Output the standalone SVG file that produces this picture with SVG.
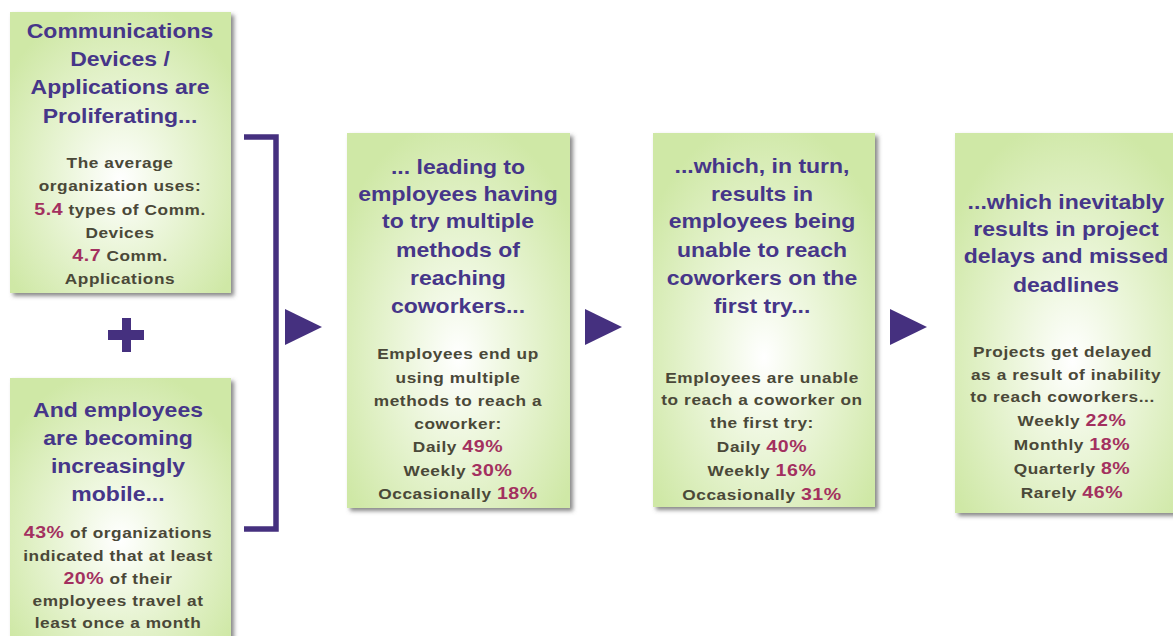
<svg xmlns="http://www.w3.org/2000/svg" width="1173" height="636" viewBox="0 0 1173 636">
<defs>
<radialGradient id="bg" cx="50%" cy="58%" r="62%" fx="50%" fy="60%">
<stop offset="0" stop-color="#ffffff"/>
<stop offset="0.35" stop-color="#eef7df"/>
<stop offset="1" stop-color="#cfe8a6"/>
</radialGradient>
<filter id="sh" x="-10%" y="-10%" width="130%" height="130%">
<feDropShadow dx="3" dy="3" stdDeviation="2" flood-color="#555" flood-opacity="0.7"/>
</filter>
<style>
.box{fill:url(#bg);filter:url(#sh)}
.t{font-family:"Liberation Sans",Arial,sans-serif;font-weight:bold;font-size:20px;fill:#463689;text-anchor:middle}
.b{font-family:"Liberation Sans",Arial,sans-serif;font-weight:bold;font-size:15px;fill:#4a4838;text-anchor:middle;letter-spacing:0.5px}
.n{fill:#a3305f;font-size:17px}
.pu{fill:#45307f}
</style>
</defs>
<rect width="1173" height="636" fill="#ffffff"/>

<g id="node-devices">
<rect class="box" x="10" y="12" width="221" height="281"/>
<g transform="translate(120 0) scale(1.15 1)">
<text class="t" x="0" y="38">Communications</text>
<text class="t" x="0" y="66">Devices /</text>
<text class="t" x="0" y="94">Applications are</text>
<text class="t" x="0" y="123">Proliferating...</text>
<text class="b" x="0" y="168">The average</text>
<text class="b" x="0" y="191">organization uses:</text>
<text class="b" x="0" y="215"><tspan class="n">5.4</tspan> types of Comm.</text>
<text class="b" x="0" y="238">Devices</text>
<text class="b" x="0" y="261"><tspan class="n">4.7</tspan> Comm.</text>
<text class="b" x="0" y="284">Applications</text>
</g>
</g>

<g id="node-plus">
<rect class="pu" x="108" y="330" width="36" height="10"/>
<rect class="pu" x="122" y="318" width="9" height="34"/>
</g>

<g id="node-mobile">
<rect class="box" x="10" y="378" width="221" height="270"/>
<g transform="translate(118 0) scale(1.15 1)">
<text class="t" x="0" y="417">And employees</text>
<text class="t" x="0" y="445">are becoming</text>
<text class="t" x="0" y="473">increasingly</text>
<text class="t" x="0" y="501">mobile...</text>
<text class="b" x="0" y="538"><tspan class="n">43%</tspan> of organizations</text>
<text class="b" x="0" y="561">indicated that at least</text>
<text class="b" x="0" y="584"><tspan class="n">20%</tspan> of their</text>
<text class="b" x="0" y="606">employees travel at</text>
<text class="b" x="0" y="628">least once a month</text>
</g>
</g>

<g id="node-methods">
<rect class="box" x="347" y="133" width="223" height="375"/>
<g transform="translate(458 0) scale(1.15 1)">
<text class="t" x="0" y="174">... leading to</text>
<text class="t" x="0" y="201">employees having</text>
<text class="t" x="0" y="228">to try multiple</text>
<text class="t" x="0" y="257">methods of</text>
<text class="t" x="0" y="285">reaching</text>
<text class="t" x="0" y="313">coworkers...</text>
<text class="b" x="0" y="359">Employees end up</text>
<text class="b" x="0" y="383">using multiple</text>
<text class="b" x="0" y="406">methods to reach a</text>
<text class="b" x="0" y="429">coworker:</text>
<text class="b" x="0" y="452">Daily <tspan class="n">49%</tspan></text>
<text class="b" x="0" y="476">Weekly <tspan class="n">30%</tspan></text>
<text class="b" x="0" y="499">Occasionally <tspan class="n">18%</tspan></text>
</g>
</g>

<g id="node-unable">
<rect class="box" x="653" y="133" width="222" height="374"/>
<g transform="translate(762 0) scale(1.15 1)">
<text class="t" x="0" y="173">...which, in turn,</text>
<text class="t" x="0" y="201">results in</text>
<text class="t" x="0" y="228">employees being</text>
<text class="t" x="0" y="257">unable to reach</text>
<text class="t" x="0" y="285">coworkers on the</text>
<text class="t" x="0" y="313">first try...</text>
<text class="b" x="0" y="383">Employees are unable</text>
<text class="b" x="0" y="405">to reach a coworker on</text>
<text class="b" x="0" y="428">the first try:</text>
<text class="b" x="0" y="452">Daily <tspan class="n">40%</tspan></text>
<text class="b" x="0" y="476">Weekly <tspan class="n">16%</tspan></text>
<text class="b" x="0" y="500">Occasionally <tspan class="n">31%</tspan></text>
</g>
</g>

<g id="node-delays">
<rect class="box" x="955" y="133" width="235" height="380"/>
<g transform="translate(1066 0) scale(1.15 1)">
<text class="t" x="0" y="209">...which inevitably</text>
<text class="t" x="0" y="236">results in project</text>
<text class="t" x="0" y="263">delays and missed</text>
<text class="t" x="0" y="292">deadlines</text>
<text class="b" x="-3" y="357">Projects get delayed</text>
<text class="b" x="0" y="380">as a result of inability</text>
<text class="b" x="-3" y="402">to reach coworkers...</text>
</g>
<g transform="translate(1072 0) scale(1.15 1)">
<text class="b" x="0" y="426">Weekly <tspan class="n">22%</tspan></text>
<text class="b" x="0" y="450">Monthly <tspan class="n">18%</tspan></text>
<text class="b" x="0" y="474">Quarterly <tspan class="n">8%</tspan></text>
<text class="b" x="0" y="498">Rarely <tspan class="n">46%</tspan></text>
</g>
</g>

<g id="connectors">
<path d="M244 137 H276 V529 H244" fill="none" stroke="#45307f" stroke-width="5.5"/>
<polygon class="pu" points="285,309 322,327 285,345"/>
<polygon class="pu" points="585,309 622,327 585,345"/>
<polygon class="pu" points="890,309 927,327 890,345"/>
</g>
</svg>
